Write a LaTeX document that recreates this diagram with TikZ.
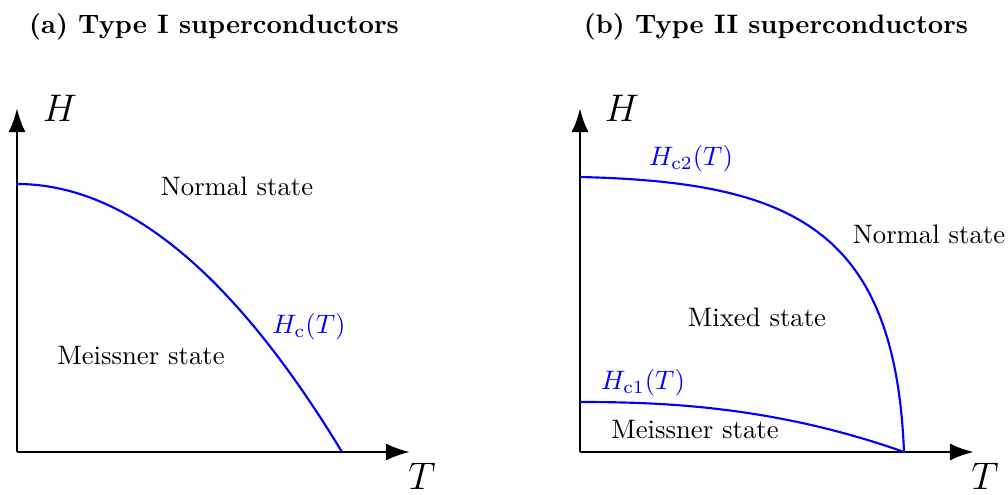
\documentclass[tikz,border=0pt]{standalone}
\usetikzlibrary{arrows.meta}
\begin{document}
\begin{tikzpicture}[x=0.3745pt,y=-0.3745pt,
  axis/.style={line width=1.1pt,-{Latex[length=9pt,width=6.4pt]}},
  curve/.style={blue,line width=0.8pt},
  axlabel/.style={font=\Large},
  region/.style={font=\normalsize},
  clabel/.style={text=blue},
  title/.style={font=\bfseries}]
\useasboundingbox (0,0) rectangle (1008,495);
% titles
\node[title] (ta) at (214,27) {(a) Type I superconductors};
\node[title] (tb) at (776,27) {(b) Type II superconductors};
% panel a
\coordinate (oa) at (17,452);
\coordinate (ya) at (17,108);
\coordinate (xa) at (410,452);
\draw[axis] (oa) -- (ya);
\draw[axis] (oa) -- (xa);
\node[axlabel] (Ha) at (60,108) {$H$};
\node[axlabel] (Ta) at (422,476) {$T$};
\draw[curve] plot[domain=0:1,samples=60] ({17+325*\x},{452-268*(1-\x*\x)});
\node[region] (na) at (237,186) {Normal state};
\node[region] (ma) at (141,356) {Meissner state};
\node[clabel] (hca) at (309,327) {$H_{\mathrm{c}}(T)$};
% panel b
\coordinate (ob) at (580,452);
\coordinate (yb) at (580,108);
\coordinate (xb) at (974,452);
\draw[axis] (ob) -- (yb);
\draw[axis] (ob) -- (xb);
\node[axlabel] (Hb) at (622,108) {$H$};
\node[axlabel] (Tb) at (985,476) {$T$};
\coordinate (c1s) at (580,402);
\coordinate (c2s) at (580,177);
\coordinate (tc) at (904,452);
\draw[curve] (c1s) -- plot[domain=0.01:1,samples=60] ({580+324*\x},{452-50*(1-\x^2.3)});
\draw[curve] (c2s) .. controls (792,182) and (895,228) .. (tc);
\node[clabel] (hc2) at (691,159) {$H_{\mathrm{c2}}(T)$};
\node[clabel] (hc1) at (643,383) {$H_{\mathrm{c1}}(T)$};
\node[region] (mx) at (757,317) {Mixed state};
\node[region] (nb) at (929,234) {Normal state};
\node[region] (mb) at (695,430) {Meissner state};
\end{tikzpicture}
\end{document}
